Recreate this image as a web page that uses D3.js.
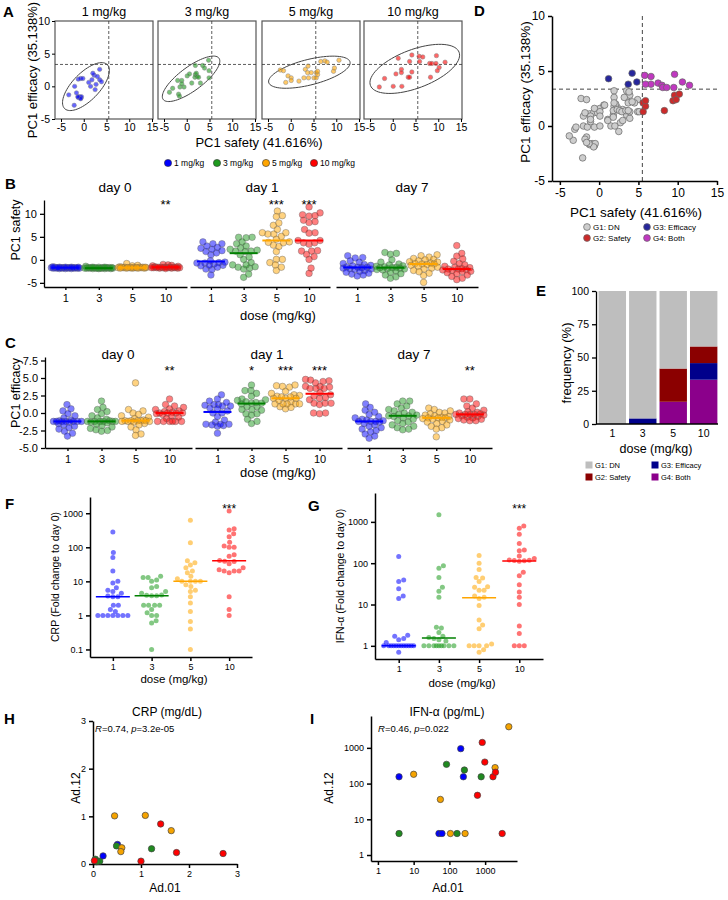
<!DOCTYPE html>
<html>
<head>
<meta charset="utf-8">
<script src="https://cdn.jsdelivr.net/npm/d3@7"></script>
<style>
body { margin: 0; background: #fff; }
svg { font-family: "Liberation Sans", Arial, Helvetica, sans-serif; }
</style>
</head>
<body>
<svg id="fig" width="728" height="900"></svg>
<script>
"use strict";

var FONT = '"Liberation Sans", Arial, Helvetica, sans-serif';

// Dose groups
var doses = ["1", "3", "5", "10"];
var doseNames = ["1 mg/kg", "3 mg/kg", "5 mg/kg", "10 mg/kg"];
var doseColors = ["#0000ff", "#1e9a1e", "#ffa500", "#ff0000"];
var lineColors = ["#0000ff", "#008000", "#ffa500", "#ff0000"];
var scatterColors = ["#0000ff", "#1f8a1f", "#f5a300", "#ff0000"];

// PC1 [safety, efficacy] at day 1, one pair per animal
var pc1mg = [[-3.3,-1.3],[-2.0,0.0],[-2.1,-2.9],[-1.2,-1.7],[-0.9,-1.6],[-0.6,-1.8],[-0.5,-1.6],[-0.7,-1.9],[-1.3,-1.6],[-1.2,1.1],[-0.7,1.2],[-0.2,1.2],
    [1.1,0.6],[1.8,1.0],[1.5,0.0],[2.5,-0.5],[2.7,0.3],[2.3,1.7],[3.5,2.6],[3.5,1.0],[3.9,0.7],[3.0,1.5],[-1.6,-1.0],[2.0,2.0]];
var pc3mg = [[-3.8,-0.9],[-1.8,-1.2],[-1.6,-1.5],[-2.0,0.9],[-1.1,0.9],[-1.5,-0.1],[-0.6,-0.1],[-1.1,0.4],[0.1,1.6],[0.6,1.9],[1.9,1.8],[1.8,1.4],
    [2.1,2.0],[2.3,1.5],[2.6,1.4],[1.9,3.2],[3.5,3.2],[3.0,0.5],[4.8,4.0],[4.9,2.4],[4.9,1.3],[3.9,2.8],[1.1,0.5],[-3.1,-0.3]];
var pc5mg = [[-2.3,2.5],[-1.6,2.4],[-0.6,1.6],[0.1,1.3],[0.1,0.9],[-1.1,0.6],[1.8,0.8],[2.9,1.3],[3.2,2.6],[3.7,2.1],[4.5,2.1],[3.9,1.3],
    [3.8,3.1],[5.6,2.1],[5.1,1.3],[5.6,1.3],[5.9,1.8],[6.6,3.8],[7.5,3.9],[8.0,3.7],[10.6,4.0],[9.4,2.3],[9.6,2.8],[5.9,2.3]];
var pc10mg = [[-2.95,-0.1],[-1.8,1.2],[0.1,0.0],[0.7,1.9],[1.2,4.3],[1.9,2.6],[1.9,2.1],[2.0,0.0],[3.7,3.8],[3.4,1.4],[3.7,1.4],[4.2,2.2],
    [4.2,4.8],[5.8,4.6],[6.6,4.5],[5.9,3.8],[8.1,3.5],[8.6,3.5],[9.5,3.5],[9.6,4.7],[11.5,3.7],[10.2,2.9],[8.3,1.4],[9.8,2.4]];
var pcDay1 = [pc1mg, pc3mg, pc5mg, pc10mg];

var thrSafety = 5.5;
var thrEfficacy = 3.35;

// PC1 safety at day 0 and day 7
var safetyDay0 = [
    [-1.8,-1.7,-1.9,-1.6,-1.8,-1.7,-1.7,-1.8,-1.6,-1.9,-1.7,-1.8,-1.6,-1.7,-1.8,-1.7,-1.9,-1.6,-1.8,-1.7,-1.5,-1.8,-1.7,-1.6],
    [-1.8,-1.7,-1.9,-1.8,-1.7,-1.8,-1.6,-1.9,-1.8,-1.7,-1.8,-1.4,-1.7,-1.8,-1.9,-1.7,-1.8,-1.6,-1.8,-1.7,-1.9,-1.8,-1.7,-1.6],
    [-1.7,-0.8,-1.3,-1.2,-1.7,-1.6,-1.8,-1.7,-1.6,-1.7,-1.8,-1.7,-1.6,-1.5,-1.7,-1.8,-1.7,-1.6,-1.7,-1.8,-1.7,-1.6,-1.7,-1.8],
    [-1.6,-1.0,-1.1,-1.2,-1.3,-1.4,-1.6,-1.7,-1.8,-1.7,-1.6,-1.7,-1.8,-1.6,-1.7,-1.5,-1.6,-1.8,-1.7,-1.6,-1.7,-1.9,-1.6,-1.7]
];
var safetyDay7 = [
    [0.9,0.5,0.4,-0.2,-0.5,-0.8,-1.0,-1.2,-1.3,-1.5,-1.6,-1.6,-1.7,-1.8,-1.9,-2.0,-2.1,-2.3,-2.5,-2.7,-2.9,-3.1,-3.3,-3.5],
    [1.6,1.4,1.2,0.0,-0.5,-0.9,-1.1,-1.3,-1.4,-1.5,-1.6,-1.7,-1.7,-1.8,-1.9,-2.0,-2.1,-2.2,-2.4,-2.7,-3.0,-3.3,-3.7,-4.0],
    [1.1,0.9,0.6,0.3,0.1,0.0,-0.2,-0.4,-0.5,-0.7,-0.8,-0.9,-0.9,-1.0,-1.2,-1.4,-1.6,-1.8,-2.0,-2.3,-2.6,-2.9,-3.4,-4.9],
    [3.1,1.4,0.8,0.2,-0.3,-0.8,-1.1,-1.4,-1.6,-1.7,-1.9,-2.0,-2.0,-2.1,-2.2,-2.3,-2.5,-2.6,-2.8,-3.0,-3.3,-3.6,-4.0,-4.3]
];

// PC1 efficacy at day 0 and day 7
var efficacyDay0 = [
    [1.2,0.6,0.3,-0.1,-0.4,-0.7,-1.0,-1.1,-1.2,-1.2,-1.2,-1.2,-1.2,-1.2,-1.2,-1.3,-1.5,-1.7,-1.9,-2.1,-2.3,-2.6,-2.9,-3.3],
    [1.7,0.8,0.5,0.2,-0.1,-0.4,-0.7,-0.9,-1.1,-1.2,-1.2,-1.2,-1.2,-1.2,-1.2,-1.3,-1.4,-1.6,-1.8,-2.0,-2.2,-2.4,-2.5,-2.6],
    [4.3,0.5,0.3,0.0,-0.2,-0.4,-0.6,-0.8,-1.0,-1.1,-1.1,-1.1,-1.1,-1.1,-1.2,-1.2,-1.2,-1.3,-1.5,-1.7,-2.0,-2.4,-3.0,-3.2],
    [2.0,1.2,1.0,0.8,0.6,0.5,0.3,0.2,0.1,0.0,0.0,0.0,0.0,-0.1,-0.2,-0.4,-0.6,-0.8,-1.2,-1.2,-1.2,-1.2,-1.2,-1.2]
];
var efficacyDay7 = [
    [1.3,0.8,0.4,0.1,-0.2,-0.5,-0.7,-0.9,-1.0,-1.1,-1.2,-1.2,-1.2,-1.3,-1.5,-1.7,-1.9,-2.1,-2.3,-2.5,-2.7,-3.0,-3.3,-3.6],
    [1.7,1.7,1.3,1.0,0.7,0.5,0.3,0.1,0.0,-0.2,-0.3,-0.4,-0.4,-0.5,-0.7,-0.9,-1.1,-1.3,-1.5,-1.7,-1.9,-2.1,-2.3,-2.4],
    [0.7,0.5,0.3,0.1,0.0,-0.1,-0.3,-0.4,-0.5,-0.6,-0.7,-0.7,-0.7,-0.8,-0.9,-1.0,-1.2,-1.3,-1.5,-1.7,-1.9,-2.1,-2.3,-3.4],
    [2.0,2.0,1.3,1.0,0.7,0.4,0.2,0.1,0.0,-0.1,-0.2,-0.2,-0.2,-0.2,-0.3,-0.4,-0.5,-0.6,-0.7,-0.8,-0.9,-1.0,-1.1,-1.1]
];

var safetyStars = [["", "", "", "**"], ["", "", "***", "***"], ["", "", "", ""]];
var efficacyStars = [["", "", "", "**"], ["", "*", "***", "***"], ["", "", "", "**"]];

// Group frequencies (%) per dose
var groupNames = ["G1: DN", "G2: Safety", "G3: Efficacy", "G4: Both"];
var groupColors = ["#bebebe", "#8b0000", "#00008b", "#8b008b"];
var dotGroupColors = ["#cdcdcd", "#cc2a2a", "#26269c", "#c038c0"];
var freqDN = [100, 95.8, 58.3, 41.7];
var freqSafety = [0, 0, 25, 12.5];
var freqEfficacy = [0, 4.2, 0, 12.5];
var freqBoth = [0, 0, 16.7, 33.3];

// Fold change to day 0
var crpFold = [
    [280,70,50,20,10,9,6.5,5.5,5,4.5,3.7,3.5,3.5,2,2,1.5,1.3,1,1,1,1,1,1,1],
    [14,13,13,11,10,7,6.5,5,4.5,4,3.9,3.8,3.8,2,2,2,2,1.5,1.2,1,1,0.7,0.6,0.1],
    [620,135,40,35,30,25,20,18,14,12,10,10,10,10,8,7,5.5,5,3.5,2.3,1.3,0.66,0.4,0.1],
    [1170,350,320,250,205,140,110,100,100,60,55,41,39,38,33,25,22,20,20,20,18,3.5,1.5,1]
];
var ifnFold = [
    [145,39,36,24,16,14,1.8,1.7,1.5,1.4,1.2,1,1,1,1,1,1,1,1,1,1,1,1,0.7],
    [1480,87,75,45,26,21,15,2.8,2.7,2.1,1.7,1.6,1.5,1.4,1.3,1,1,1,1,1,1,1,1,1],
    [153,100,70,45,44,36,27,26,22,22,16,15,14,9.5,4.2,3.2,2.6,1.1,1,1,1,1,0.8,0.7],
    [800,700,500,300,210,200,150,130,120,118,116,114,112,60,50,30,20,15,10,3,2,1,1,1]
];
var foldStars = ["", "", "", "***"];

// Ad.01 vs Ad.12 levels
var crpAd01 = [0.05,0.14,0.08,0.21,0.51,0.49,0.45,0.60,0.58,1.09,1.22,1.00,1.41,1.63,1.74,2.71,0.03];
var crpAd12 = [0.10,0.06,0.05,0.17,0.41,0.38,1.01,0.34,0.26,1.02,0.32,0.06,0.84,0.70,0.24,0.22,0.07];
var crpDose = [1,1,1,0,0,1,2,2,2,2,1,3,3,2,3,3,3];
var ifnAd01 = [3.9,3.9,10,56,51,62,83,107,164,208,246,263,275,610,830,775,980,1660,1900,1950,3000,4600];
var ifnAd12 = [155,4,182,36,4,4,346,4,4,950,155,240,4,47,1420,155,400,155,280,208,4,3900];
var ifnDose = [0,1,2,2,0,0,1,2,1,0,0,1,2,3,3,1,3,3,2,3,3,2];

var svg = d3.select("#fig");

var addText = function (x, y, s, size, anchor, weight) {
    return svg.append("text")
        .attr("x", x).attr("y", y)
        .attr("font-size", size)
        .attr("text-anchor", anchor || "start")
        .attr("font-weight", weight || "normal")
        .text(s);
};

var addVText = function (x, y, s, size) {
    return svg.append("text")
        .attr("transform", "translate(" + x + "," + y + ") rotate(-90)")
        .attr("font-size", size)
        .attr("text-anchor", "middle")
        .text(s);
};

var styleAxis = function (g, size, width) {
    g.attr("font-family", FONT).attr("font-size", size);
    g.selectAll(".domain").attr("stroke", "#000").attr("stroke-width", width || 1.2);
    g.selectAll(".tick line").attr("stroke", "#000").attr("stroke-width", width || 1.2);
    g.selectAll(".tick text").attr("fill", "#000");
};

var plain = function (d) { return String(d); };

// Covariance ellipse (95%) drawn in data space
var ellipsePath = function (pts, xs, ys) {
    var mx = d3.mean(pts, function (d) { return d[0]; });
    var my = d3.mean(pts, function (d) { return d[1]; });
    var n = pts.length;
    var sxx = d3.sum(pts, function (d) { return (d[0] - mx) * (d[0] - mx); }) / (n - 1);
    var syy = d3.sum(pts, function (d) { return (d[1] - my) * (d[1] - my); }) / (n - 1);
    var sxy = d3.sum(pts, function (d) { return (d[0] - mx) * (d[1] - my); }) / (n - 1);
    var tr = sxx + syy, det = sxx * syy - sxy * sxy;
    var disc = Math.sqrt(tr * tr / 4 - det);
    var l1 = tr / 2 + disc, l2 = tr / 2 - disc;
    var ang = Math.atan2(l1 - sxx, sxy);
    var k = Math.sqrt(5.991);
    var a = k * Math.sqrt(l1), b = k * Math.sqrt(l2);
    var ring = d3.range(80).map(function (j) {
        var t = j / 80 * 2 * Math.PI;
        var u = a * Math.cos(t), v = b * Math.sin(t);
        return [mx + u * Math.cos(ang) - v * Math.sin(ang), my + u * Math.sin(ang) + v * Math.cos(ang)];
    });
    return d3.line()
        .x(function (d) { return xs(d[0]); })
        .y(function (d) { return ys(d[1]); })
        .curve(d3.curveLinearClosed)(ring);
};

// Simple deterministic beeswarm: horizontal offsets in pixels
var swarm = function (vals, yf, r, maxW, overlap) {
    var order = d3.range(vals.length).sort(function (a, b) { return vals[a] - vals[b]; });
    var placed = [], out = new Array(vals.length);
    var dmin = 2 * r * overlap;
    order.forEach(function (i) {
        var py = yf(vals[i]);
        var best = 0, bestD = -1;
        for (var k = 0; ; k++) {
            var o = (k % 2 ? 1 : -1) * Math.ceil(k / 2) * 0.5;
            if (Math.abs(o) > maxW) break;
            var d = placed.length ? d3.min(placed, function (p) { return Math.hypot(p[0] - o, p[1] - py); }) : Infinity;
            if (d >= dmin) { best = o; bestD = d; break; }
            if (d > bestD) { bestD = d; best = o; }
        }
        placed.push([best, py]);
        out[i] = [best, py];
    });
    return out;
};

var drawGroup = function (vals, cx, yf, i, opt) {
    var pos = swarm(vals, yf, opt.r, opt.maxW, opt.overlap);
    svg.append("g").selectAll("circle")
        .data(pos)
        .enter().append("circle")
            .attr("cx", function (d) { return cx + d[0]; })
            .attr("cy", function (d) { return d[1]; })
            .attr("r", opt.r)
            .attr("fill", doseColors[i])
            .attr("fill-opacity", opt.opacity)
            .attr("stroke", opt.stroke)
            .attr("stroke-opacity", 0.6)
            .attr("stroke-width", opt.strokeWidth);
    var m = yf(d3.median(vals));
    svg.append("line")
        .attr("x1", cx - opt.half).attr("x2", cx + opt.half)
        .attr("y1", m).attr("y2", m)
        .attr("stroke", lineColors[i])
        .attr("stroke-width", opt.lineWidth);
};

// ---------------- Panel A ----------------
addText(3, 17, "A", 15, "start", "bold");
var aLeft = [55, 158, 262, 364];
var aTop = 21, aBottom = 119, aWidth = 98;
var yA = d3.scaleLinear().domain([-5, 10]).range([aBottom, aTop]);

pcDay1.forEach(function (pts, i) {
    var L = aLeft[i];
    var xA = d3.scaleLinear().domain([-5, 15]).range([L + 6, L + 97]);

    svg.append("rect")
        .attr("x", L).attr("y", aTop)
        .attr("width", aWidth).attr("height", aBottom - aTop)
        .attr("fill", "none").attr("stroke", "#555").attr("stroke-width", 1.2);

    svg.append("line")
        .attr("x1", xA(thrSafety)).attr("x2", xA(thrSafety))
        .attr("y1", aTop).attr("y2", aBottom)
        .attr("stroke", "#333").attr("stroke-width", 0.8).attr("stroke-dasharray", "3,2");
    svg.append("line")
        .attr("x1", L).attr("x2", L + aWidth)
        .attr("y1", yA(thrEfficacy)).attr("y2", yA(thrEfficacy))
        .attr("stroke", "#333").attr("stroke-width", 0.8).attr("stroke-dasharray", "3,2");

    svg.append("path")
        .attr("d", ellipsePath(pts, xA, yA))
        .attr("fill", "none").attr("stroke", "#444").attr("stroke-width", 1);

    svg.append("g").selectAll("circle")
        .data(pts)
        .enter().append("circle")
            .attr("cx", function (d) { return xA(d[0]); })
            .attr("cy", function (d) { return yA(d[1]); })
            .attr("r", 2.2)
            .attr("fill", doseColors[i]).attr("fill-opacity", 0.6)
            .attr("stroke", "#888").attr("stroke-width", 0.5);

    var gx = svg.append("g")
        .attr("transform", "translate(0," + aBottom + ")")
        .call(d3.axisBottom(xA).tickValues([-5, 0, 5, 10, 15]).tickSize(3).tickPadding(2).tickFormat(plain));
    gx.select(".domain").remove();
    styleAxis(gx, 10.5, 1);

    if (i === 0) {
        var gy = svg.append("g")
            .attr("transform", "translate(" + L + ",0)")
            .call(d3.axisLeft(yA).tickValues([-5, 0, 5, 10]).tickSize(3).tickPadding(2).tickFormat(plain));
        gy.select(".domain").remove();
        styleAxis(gy, 10.5, 1);
    }

    addText(L + aWidth / 2, 16, doseNames[i], 12.5, "middle");
});
addVText(37, 70, "PC1 efficacy (35.138%)", 13);
addText(259, 147, "PC1 safety (41.616%)", 13, "middle");

// dose legend
var legX = [168, 217, 266, 314];
doseNames.forEach(function (name, i) {
    svg.append("circle")
        .attr("cx", legX[i]).attr("cy", 163).attr("r", 3.6)
        .attr("fill", doseColors[i]).attr("stroke", "#333").attr("stroke-width", 0.6);
    addText(legX[i] + 6, 166, name, 8.5, "start");
});

// ---------------- Panel D ----------------
addText(474, 16, "D", 15, "start", "bold");
var xD = d3.scaleLinear().domain([-6, 15]).range([552, 717]);
var yD = d3.scaleLinear().domain([-5, 10]).range([181, 16]);
var groupOf = function (d) {
    if (d[0] >= thrSafety && d[1] >= thrEfficacy) return 3;
    if (d[0] >= thrSafety) return 1;
    if (d[1] >= thrEfficacy) return 2;
    return 0;
};
var allPts = d3.merge(pcDay1).slice().sort(function (a, b) {
    return (groupOf(a) > 0) - (groupOf(b) > 0);
});

svg.append("line")
    .attr("x1", xD(thrSafety)).attr("x2", xD(thrSafety))
    .attr("y1", yD(10)).attr("y2", yD(-5))
    .attr("stroke", "#444").attr("stroke-width", 1).attr("stroke-dasharray", "4,3");
svg.append("line")
    .attr("x1", xD(-6)).attr("x2", xD(15))
    .attr("y1", yD(thrEfficacy)).attr("y2", yD(thrEfficacy))
    .attr("stroke", "#444").attr("stroke-width", 1).attr("stroke-dasharray", "4,3");

svg.append("g").selectAll("circle")
    .data(allPts)
    .enter().append("circle")
        .attr("cx", function (d) { return xD(d[0]); })
        .attr("cy", function (d) { return yD(d[1]); })
        .attr("r", 3.3)
        .attr("fill", function (d) { return dotGroupColors[groupOf(d)]; })
        .attr("stroke", "#666").attr("stroke-width", 0.7);

var gDx = svg.append("g")
    .attr("transform", "translate(0,181)")
    .call(d3.axisBottom(xD).tickValues([-5, 0, 5, 10, 15]).tickSize(4).tickSizeOuter(0).tickFormat(plain));
styleAxis(gDx, 12, 1.5);
var gDy = svg.append("g")
    .attr("transform", "translate(552,0)")
    .call(d3.axisLeft(yD).tickValues([-5, 0, 5, 10]).tickSize(4).tickSizeOuter(0).tickFormat(plain));
styleAxis(gDy, 12, 1.5);
addVText(530, 92, "PC1 efficacy (35.138%)", 13.5);
addText(636, 217, "PC1 safety (41.616%)", 13.5, "middle");

// legend: left column G1/G2, right column G3/G4
var dLegX = [587, 587, 647, 647];
var dLegY = [227, 238, 227, 238];
groupNames.forEach(function (name, i) {
    svg.append("circle")
        .attr("cx", dLegX[i]).attr("cy", dLegY[i]).attr("r", 3.4)
        .attr("fill", dotGroupColors[i]).attr("stroke", "#666").attr("stroke-width", 0.7);
    addText(dLegX[i] + 6, dLegY[i] + 3, name, 8, "start");
});

// ---------------- Panels B and C ----------------
var dotPanel = function (cfg) {
    var yf = d3.scaleLinear().domain(cfg.domain).range([cfg.bottom, cfg.top]);
    var gy = svg.append("g")
        .attr("transform", "translate(" + cfg.left + ",0)")
        .call(d3.axisLeft(yf).tickValues(cfg.ticks).tickSize(4).tickSizeOuter(0).tickFormat(cfg.format));
    styleAxis(gy, 11, 1.3);

    cfg.days.forEach(function (dayData, di) {
        var xr = cfg.dayRanges[di];
        var xs = d3.scalePoint().domain(doses).range(xr).padding(cfg.padding);
        var gx = svg.append("g")
            .attr("transform", "translate(0," + cfg.bottom + ")")
            .call(d3.axisBottom(xs).tickSize(3).tickSizeOuter(0).tickPadding(4));
        styleAxis(gx, 11, 1.3);

        addText(cfg.titleX[di], cfg.titleY, cfg.titles[di], 13.5, "middle");

        dayData.forEach(function (vals, i) {
            drawGroup(vals, xs(doses[i]), yf, i, {
                r: 3.3, maxW: 14, overlap: 0.85, opacity: 0.5,
                stroke: "#666", strokeWidth: 0.7, half: 14, lineWidth: 2
            });
            if (cfg.stars[di][i]) {
                addText(xs(doses[i]), cfg.starY, cfg.stars[di][i], 13, "middle");
            }
        });
    });
    addText(278, cfg.labelY, "dose (mg/kg)", 13, "middle");
};

addText(5, 189, "B", 15, "start", "bold");
dotPanel({
    domain: [-5.9, 13], top: 200, bottom: 287, left: 44,
    ticks: [-5, 0, 5, 10], format: plain,
    dayRanges: [[44, 187], [190, 330], [336, 478]], padding: 0.64,
    days: [safetyDay0, pcDay1.map(function (g) { return g.map(function (d) { return d[0]; }); }), safetyDay7],
    titles: ["day 0", "day 1", "day 7"], titleX: [115, 262, 412], titleY: 192,
    stars: safetyStars, starY: 209, labelY: 320
});
addVText(20, 230, "PC1 safety", 12.5);

addText(5, 348, "C", 15, "start", "bold");
dotPanel({
    domain: [-5, 8], top: 357, bottom: 448, left: 45,
    ticks: [-5, -2.5, 0, 2.5, 5, 7.5], format: function (d) { return d.toFixed(1); },
    dayRanges: [[45, 192], [195, 342], [347, 492]], padding: 0.66,
    days: [efficacyDay0, pcDay1.map(function (g) { return g.map(function (d) { return d[1]; }); }), efficacyDay7],
    titles: ["day 0", "day 1", "day 7"], titleX: [118, 267, 414], titleY: 359,
    stars: efficacyStars, starY: 375, labelY: 477
});
addVText(20, 393, "PC1 efficacy", 12.5);

// ---------------- Panel E ----------------
addText(536, 296, "E", 15, "start", "bold");
var eRows = doses.map(function (d, i) {
    return { dose: d, both: freqBoth[i], efficacy: freqEfficacy[i], safety: freqSafety[i], dn: freqDN[i] };
});
var eKeys = ["both", "efficacy", "safety", "dn"];
var eColors = { dn: groupColors[0], safety: groupColors[1], efficacy: groupColors[2], both: groupColors[3] };
var eSeries = d3.stack().keys(eKeys)(eRows);
var xE = d3.scaleBand().domain(doses).range([598, 718]).paddingInner(0.1).paddingOuter(0.02);
var yE = d3.scaleLinear().domain([0, 100]).range([424, 291]);

svg.append("g").selectAll("g")
    .data(eSeries)
    .enter().append("g")
        .attr("fill", function (s) { return eColors[s.key]; })
    .selectAll("rect")
    .data(function (s) { return s; })
    .enter().append("rect")
        .attr("x", function (d) { return xE(d.data.dose); })
        .attr("y", function (d) { return yE(d[1]); })
        .attr("width", xE.bandwidth())
        .attr("height", function (d) { return yE(d[0]) - yE(d[1]); });

var gEy = svg.append("g")
    .attr("transform", "translate(596,0)")
    .call(d3.axisLeft(yE).tickValues([0, 25, 50, 75, 100]).tickSize(4).tickSizeOuter(0).tickFormat(plain));
styleAxis(gEy, 10.5, 1.3);
var gEx = svg.append("g")
    .attr("transform", "translate(0,424)")
    .call(d3.axisBottom(xE).tickSize(0).tickSizeOuter(0).tickPadding(6));
styleAxis(gEx, 10.5, 1.3);
gEx.select(".domain").attr("d", "M596,0H718");
addVText(571, 363, "frequency (%)", 13);
addText(656, 453, "dose (mg/kg)", 12.5, "middle");

var eLegX = [589, 589, 655, 655];
var eLegY = [465, 477, 465, 477];
groupNames.forEach(function (name, i) {
    svg.append("rect")
        .attr("x", eLegX[i] - 3.5).attr("y", eLegY[i] - 3.5)
        .attr("width", 7).attr("height", 7)
        .attr("fill", groupColors[i]);
    addText(eLegX[i] + 6, eLegY[i] + 3, name, 7.5, "start");
});

// ---------------- Panels F and G ----------------
var foldPanel = function (cfg) {
    var yf = d3.scaleLog().domain(cfg.domain).range([cfg.bottom, cfg.top]);
    var xs = d3.scalePoint().domain(doses).range([cfg.left, cfg.right]).padding(0.59);
    var gy = svg.append("g")
        .attr("transform", "translate(" + cfg.left + ",0)")
        .call(d3.axisLeft(yf).tickValues(cfg.ticks).tickSize(4).tickSizeOuter(0).tickFormat(plain));
    styleAxis(gy, 9, 1.5);
    var gx = svg.append("g")
        .attr("transform", "translate(0," + cfg.bottom + ")")
        .call(d3.axisBottom(xs).tickSize(4).tickSizeOuter(0).tickPadding(3));
    styleAxis(gx, 9, 1.5);

    cfg.data.forEach(function (vals, i) {
        drawGroup(vals, xs(doses[i]), yf, i, {
            r: 2.5, maxW: 17, overlap: 1, opacity: 0.55,
            stroke: "none", strokeWidth: 0, half: 17, lineWidth: 1.5
        });
        if (foldStars[i]) {
            addText(xs(doses[i]), cfg.starY, foldStars[i], 12, "middle");
        }
    });
    addVText(cfg.labelX, (cfg.top + cfg.bottom) / 2, cfg.label, 10.5);
    addText((cfg.left + cfg.right) / 2 + 3, cfg.xLabelY, "dose (mg/kg)", 11.5, "middle");
};

addText(5, 509, "F", 15, "start", "bold");
foldPanel({
    domain: [0.06, 3000], top: 497, bottom: 657, left: 90, right: 252,
    ticks: [0.1, 1, 10, 100, 1000], data: crpFold, starY: 513,
    label: "CRP (Fold change to day 0)", labelX: 59, xLabelY: 683
});

addText(308, 511, "G", 15, "start", "bold");
foldPanel({
    domain: [0.48, 5000], top: 493, bottom: 659, left: 375, right: 543,
    ticks: [1, 10, 100, 1000], data: ifnFold, starY: 513,
    label: "IFN-\u03b1 (Fold change to day 0)", labelX: 344, xLabelY: 687
});

// ---------------- Panels H and I ----------------
var scatterPanel = function (cfg) {
    var gx = svg.append("g")
        .attr("transform", "translate(0," + cfg.y.range()[0] + ")")
        .call(d3.axisBottom(cfg.x).tickValues(cfg.xTicks).tickSize(4).tickSizeOuter(0).tickFormat(plain));
    styleAxis(gx, 9, 1.5);
    var gy = svg.append("g")
        .attr("transform", "translate(" + cfg.x.range()[0] + ",0)")
        .call(d3.axisLeft(cfg.y).tickValues(cfg.yTicks).tickSize(4).tickSizeOuter(0).tickFormat(plain));
    styleAxis(gy, 9, 1.5);

    svg.append("g").selectAll("circle")
        .data(d3.range(cfg.xs.length))
        .enter().append("circle")
            .attr("cx", function (k) { return cfg.x(cfg.xs[k]); })
            .attr("cy", function (k) { return cfg.y(cfg.ys[k]); })
            .attr("r", 3.2)
            .attr("fill", function (k) { return scatterColors[cfg.dose[k]]; })
            .attr("stroke", "#444").attr("stroke-width", 0.7);

    addText(cfg.titleX, 716, cfg.title, 12, "middle");
    var note = svg.append("text")
        .attr("x", cfg.noteX).attr("y", 732)
        .attr("font-size", 9.5);
    note.append("tspan").attr("font-style", "italic").text("R");
    note.append("tspan").text("=" + cfg.r + ", ");
    note.append("tspan").attr("font-style", "italic").text("p");
    note.append("tspan").text("=" + cfg.p);
    addVText(cfg.yLabelX, 788, "Ad.12", 12);
    addText(cfg.xLabelX, 892, "Ad.01", 12, "middle");
};

addText(4, 724, "H", 15, "start", "bold");
scatterPanel({
    x: d3.scaleLinear().domain([0, 3]).range([93, 237]),
    y: d3.scaleLinear().domain([0, 3]).range([864, 721]),
    xTicks: [0, 1, 2, 3], yTicks: [0, 1, 2, 3],
    xs: crpAd01, ys: crpAd12, dose: crpDose,
    title: "CRP (mg/dL)", titleX: 167, noteX: 95, r: "0.74", p: "3.2e-05",
    yLabelX: 80, xLabelX: 165
});

addText(310, 724, "I", 15, "start", "bold");
scatterPanel({
    x: d3.scaleLog().domain([0.64, 7800]).range([371, 517]),
    y: d3.scaleLog().domain([0.68, 7800]).range([861, 716]),
    xTicks: [1, 10, 100, 1000], yTicks: [1, 10, 100, 1000],
    xs: ifnAd01, ys: ifnAd12, dose: ifnDose,
    title: "IFN-\u03b1 (pg/mL)", titleX: 447, noteX: 378, r: "0.46", p: "0.022",
    yLabelX: 333, xLabelX: 448
});
</script>
</body>
</html>
